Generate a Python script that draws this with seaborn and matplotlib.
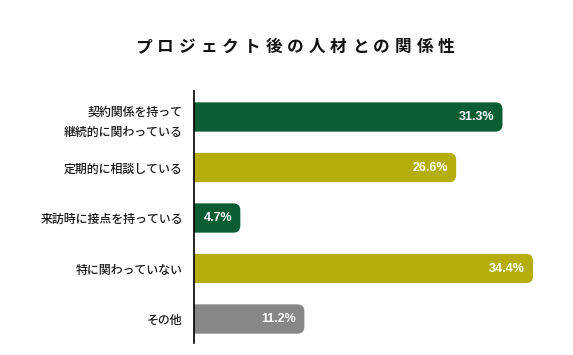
import matplotlib
matplotlib.use("Agg")
import matplotlib.pyplot as plt
import numpy as np
import pandas as pd
import seaborn as sns
from matplotlib.patches import FancyBboxPatch

categories = [
    "契約関係を持って\n継続的に関わっている",
    "定期的に相談している",
    "来訪時に接点を持っている",
    "特に関わっていない",
    "その他",
]
values = [31.3, 26.6, 4.7, 34.4, 11.2]
labels = ["31.3%", "26.6%", "4.7%", "34.4%", "11.2%"]
colors = ["#0b5d33", "#b5ae0a", "#0b5d33", "#b5ae0a", "#878787"]
title = "プロジェクト後の人材との関係性"

sns.set_theme(style="white")
plt.rcParams["font.family"] = ["Noto Sans CJK JP", "DejaVu Sans"]

W, H = 573, 355
fig = plt.figure(figsize=(W / 100, H / 100), dpi=100)
ax_left, ax_right = 194, 562
ax_top, ax_bot = 91, 343
ax = fig.add_axes([ax_left / W, 1 - ax_bot / H, (ax_right - ax_left) / W, (ax_bot - ax_top) / H])

df = pd.DataFrame({"cat": categories, "val": values})
sns.barplot(data=df, x="val", y="cat", hue="cat", palette=colors, legend=False,
            width=0.58, ax=ax, saturation=1)

px_per_unit = 9.855
xmax = (ax_right - ax_left) / px_per_unit
ax.set_xlim(0, xmax)
ax.set_ylim(4.475, -0.515)

# swap seaborn's bars for ones with rounded right ends;
# the left end is pushed past x=0 so the axes clip hides its rounding
y_px_per_unit = (ax_bot - ax_top) / (4.475 + 0.515)
r_px = 7
rx = r_px / px_per_unit
aspect = (r_px / y_px_per_unit) / rx
for p, c in zip(list(ax.patches), colors):
    x0, y0 = p.get_x(), p.get_y()
    w, h = p.get_width(), p.get_height()
    p.remove()
    ax.add_patch(FancyBboxPatch((x0 - 2 * rx, y0), w + 2 * rx, h,
                                boxstyle=f"round,pad=0,rounding_size={rx}",
                                mutation_aspect=aspect, fc=c, ec="none", lw=0))

for i, (v, lab) in enumerate(zip(values, labels)):
    ax.text(v - 0.85, i, lab, ha="right", va="center", color="white",
            fontsize=9, fontweight="bold", family=["Liberation Sans", "DejaVu Sans"])

ax.set_xlabel("")
ax.set_ylabel("")
ax.set_xticks([])
ax.tick_params(axis="y", length=0, pad=8, labelsize=8.6, colors="#1a1a1a")
for t in ax.get_yticklabels():
    t.set_linespacing(1.75)
    t.set_fontweight("medium")
for s in ["top", "right", "bottom"]:
    ax.spines[s].set_visible(False)
ax.spines["left"].set_color("black")
ax.spines["left"].set_linewidth(1.2)

# title with wide letter spacing
step = 21.6
x_start = 144
for k, ch in enumerate(title):
    fig.text((x_start + k * step) / W, 1 - 47 / H, ch, ha="center", va="center",
             fontsize=12, fontweight="bold", color="#111111")

fig.savefig("out.png", dpi=100)
